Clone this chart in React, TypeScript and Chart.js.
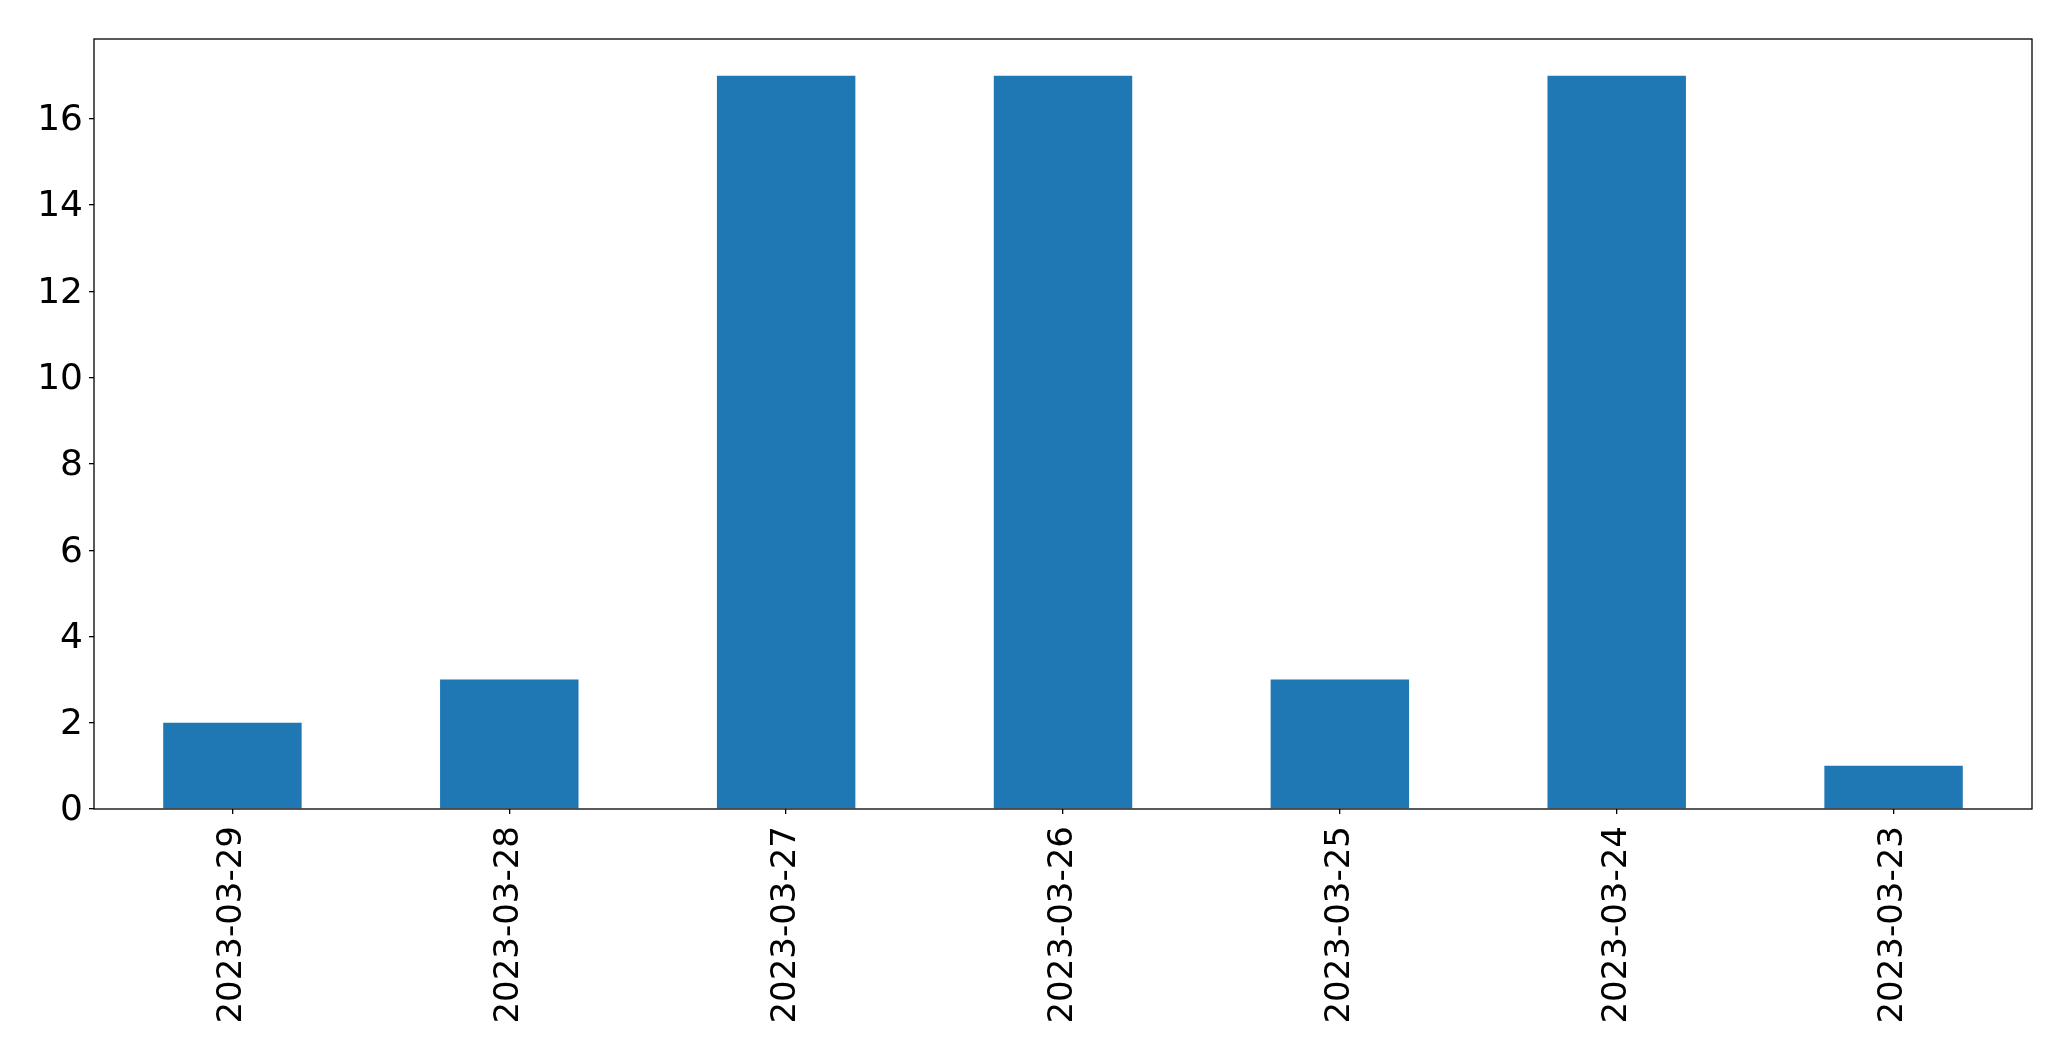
import React, { useEffect, useRef } from "react";
import { Chart, registerables } from "chart.js";

Chart.register(...registerables);

const categories = ["2023-03-29", "2023-03-28", "2023-03-27", "2023-03-26", "2023-03-25", "2023-03-24", "2023-03-23"];
const values = [2, 3, 17, 17, 3, 17, 1];
const yTicks = [0, 2, 4, 6, 8, 10, 12, 14, 16];

const FONT = "'DejaVu Sans', sans-serif";

const framePlugin = {
  id: "frame",
  afterDatasetsDraw(chart: any) {
    const { ctx, chartArea } = chart;
    ctx.save();
    ctx.strokeStyle = "#000";
    ctx.lineWidth = 1.3;
    ctx.strokeRect(chartArea.left, chartArea.top, chartArea.right - chartArea.left, chartArea.bottom - chartArea.top);
    ctx.restore();
  },
};

export default function App() {
  const ref = useRef<HTMLCanvasElement | null>(null);
  useEffect(() => {
    if (!ref.current) return;
    const chart = new Chart(ref.current, {
      type: "bar",
      data: {
        labels: categories,
        datasets: [
          {
            data: values,
            backgroundColor: "#1f77b4",
            borderWidth: 0,
            barPercentage: 0.5,
            categoryPercentage: 1,
          },
        ],
      },
      options: {
        animation: false,
        responsive: false,
        maintainAspectRatio: false,
        layout: { padding: { top: 39, right: 39, left: 0, bottom: 0 } },
        plugins: { legend: { display: false }, tooltip: { enabled: false } },
        scales: {
          x: {
            grid: { display: true, offset: false, drawOnChartArea: false, drawTicks: true, tickLength: 5, color: "#000", lineWidth: 1.3 },
            border: { display: false },
            ticks: {
              color: "#000",
              font: { family: FONT, size: 34 },
              minRotation: 90,
              maxRotation: 90,
              autoSkip: false,
              padding: 12,
            },
            afterFit(axis: any) {
              axis.height = 252;
            },
          },
          y: {
            min: 0,
            max: 17.85,
            grid: { display: true, drawOnChartArea: false, drawTicks: true, tickLength: 5, color: "#000", lineWidth: 1.3 },
            border: { display: false },
            ticks: {
              color: "#000",
              font: { family: FONT, size: 36 },
              padding: 6,
              labelOffset: 2,
            },
            afterBuildTicks(axis: any) {
              axis.ticks = yTicks.map((v) => ({ value: v }));
            },
            afterFit(axis: any) {
              axis.width = 94;
            },
          },
        },
      },
      plugins: [framePlugin],
    });
    return () => chart.destroy();
  }, []);
  return (
    <div style={{ position: "fixed", left: 0, top: 0, width: 2071, height: 1061, background: "#fff" }}>
      <canvas ref={ref} width={2071} height={1061} style={{ width: 2071, height: 1061 }} />
    </div>
  );
}
